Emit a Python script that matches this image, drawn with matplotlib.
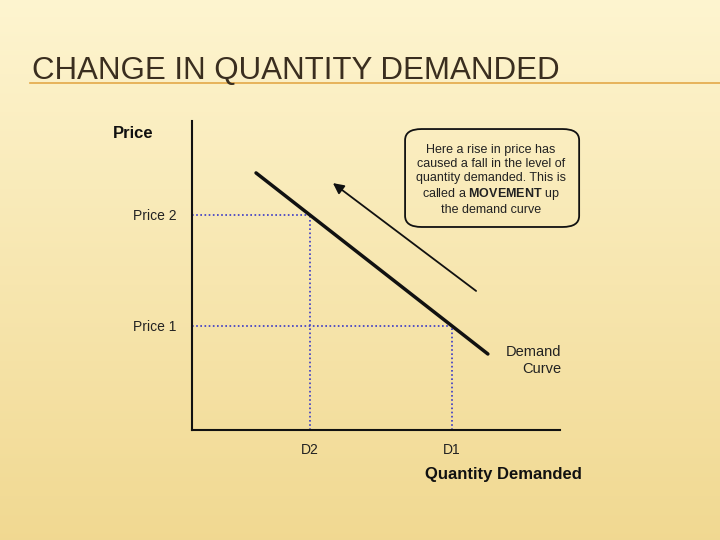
import numpy as np
import matplotlib
matplotlib.use("Agg")
import matplotlib.pyplot as plt
from matplotlib.patches import FancyBboxPatch
from matplotlib import font_manager

plt.rcParams['font.family'] = ['Liberation Sans', 'DejaVu Sans']
plt.rcParams['mathtext.fontset'] = 'custom'
plt.rcParams['mathtext.bf'] = 'Liberation Sans:bold'
plt.rcParams['mathtext.rm'] = 'Liberation Sans'

# demand curve points (quantity, price)
demand_q = [1.74, 8.04]
demand_p = [8.32, 2.46]

price_levels = [6.96, 3.37]
price_labels = ['Price 2', 'Price 1']
qty_levels = [3.21, 7.07]
qty_labels = ['D2', 'D1']

arrow_tail = (7.72, 4.50)
arrow_head = (3.83, 7.99)

note_lines = ["Here a rise in price has",
              "caused a fall in the level of",
              "quantity demanded. This is",
              "called a $\\bf{MOVEMENT}$ up",
              "the demand curve"]

fig = plt.figure(figsize=(7.2, 5.4), dpi=100)

# background gradient
bg = fig.add_axes([0, 0, 1, 1])
grad = np.linspace(0, 1, 256).reshape(-1, 1)
top = np.array([0.995, 0.960, 0.815])
bot = np.array([0.945, 0.850, 0.570])
img = top[None, None, :] * (1 - grad[:, :, None]) + bot[None, None, :] * grad[:, :, None]
bg.imshow(img, aspect='auto', extent=[0, 1, 0, 1])
bg.set_xlim(0, 1)
bg.set_ylim(0, 1)
bg.axis('off')

# title and underline (narrow font if one is installed)
names = {f.name for f in font_manager.fontManager.ttflist}
title_font, title_size = 'Liberation Sans', 22.5
for cand in ['Liberation Sans Narrow', 'DejaVu Sans Condensed']:
    if cand in names:
        title_font, title_size = cand, 25
        break
fig.text(32 / 720, 1 - 71 / 540, "CHANGE IN QUANTITY DEMANDED",
         family=[title_font, 'DejaVu Sans'], fontsize=title_size,
         color='#3a2e1f', va='center', ha='left')
bg.plot([30 / 720, 1], [1 - 83 / 540, 1 - 83 / 540], color='#e3a948', lw=1.2)

# chart axes
ax = fig.add_axes([192 / 720, 110 / 540, 368 / 720, 309 / 540])
ax.patch.set_alpha(0)
ax.set_xlim(0, 10)
ax.set_ylim(0, 10)
for s in ['top', 'right']:
    ax.spines[s].set_visible(False)
for s in ['left', 'bottom']:
    ax.spines[s].set_linewidth(1.5)
    ax.spines[s].set_color('#111111')

ax.set_yticks(price_levels)
ax.set_yticklabels(price_labels)
ax.set_xticks(qty_levels)
ax.set_xticklabels(qty_labels)
ax.tick_params(axis='y', length=0, pad=11, labelsize=10, colors='#222222')
ax.tick_params(axis='x', length=0, pad=9, labelsize=10, colors='#222222')

# dotted guide lines
for p, q in zip(price_levels, qty_levels):
    ax.plot([0, q], [p, p], color='#3838c8', lw=1.2, ls=(0, (1, 1.5)))
    ax.plot([q, q], [0, p], color='#3838c8', lw=1.2, ls=(0, (1, 1.5)))

ax.plot(demand_q, demand_p, color='#111111', lw=2.5, solid_capstyle='round')

ax.annotate('', xy=arrow_head, xytext=arrow_tail,
            arrowprops=dict(arrowstyle='-|>', color='#111111', lw=1.3,
                            mutation_scale=16, shrinkA=0, shrinkB=0))

ax.text(-2.15, 9.61, 'Price', fontsize=12, fontweight='bold', color='#111111',
        ha='left', va='center', clip_on=False)
ax.text(10.6, -1.45, 'Quantity Demanded', fontsize=12, fontweight='bold',
        color='#111111', ha='right', va='center', clip_on=False)
ax.text(10.03, 2.25, 'Demand\nCurve', fontsize=10.5, color='#222222',
        ha='right', va='center', linespacing=1.35, clip_on=False)

box = FancyBboxPatch((5.79, 6.57), 4.73, 3.17,
                     boxstyle='round,pad=0,rounding_size=0.45',
                     mutation_aspect=0.8,
                     fc='none', ec='#111111', lw=1.3, clip_on=False)
ax.add_patch(box)
ax.text(8.12, 8.1, "\n".join(note_lines), fontsize=9, color='#222222',
        ha='center', va='center', linespacing=1.2, clip_on=False)

fig.savefig('out.png', dpi=100)
